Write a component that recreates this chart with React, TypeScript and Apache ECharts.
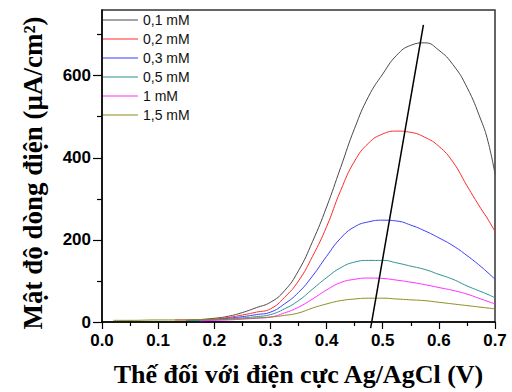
import React, { useEffect, useRef } from "react";
import * as echarts from "echarts";

const potentials = [0.02, 0.05, 0.1, 0.13, 0.15, 0.175, 0.2, 0.225, 0.25, 0.275, 0.3, 0.325, 0.35, 0.375, 0.4, 0.425, 0.45, 0.475, 0.5, 0.525, 0.55, 0.575, 0.6, 0.625, 0.65, 0.675, 0.6875, 0.7];

const c01 = [null, null, null, null, null, 6, 9, 14, 23, 35, 48, 76, 125, 196, 280, 376, 472, 550, 604, 650, 674, 680, 662, 627, 572, 492, 440, 360];
const c02 = [null, null, null, 5, 5, 6, 7, 11, 17, 24, 32, 60, 100, 160, 232, 320, 392, 436, 458, 465, 462, 450, 428, 390, 332, 276, 250, 220];
const c03 = [null, null, null, null, 4, 5, 6, 9, 13, 18, 24, 44, 72, 112, 160, 204, 232, 244, 248, 246, 236, 222, 205, 186, 162, 135, 120, 104];
const c05 = [null, null, null, null, 4, 4, 5, 7, 10, 13, 18, 32, 52, 80, 108, 132, 146, 150, 150, 144, 136, 128, 116, 104, 88, 74, 67, 59];
const c1 = [null, null, null, null, null, 3, 4, 5, 7, 9, 12, 22, 36, 56, 78, 96, 104, 107, 106, 102, 97, 91, 84, 77, 68, 56, 50, 44];
const c15 = [4, 4, 5, 5, 5, 6, 6, 7, 8, 10, 12, 16, 22, 34, 44, 52, 56, 58, 58, 56, 54, 52, 48, 44, 40, 36, 34, 32];

const seriesNames = ["0,1 mM", "0,2 mM", "0,3 mM", "0,5 mM", "1 mM", "1,5 mM"];
const seriesColors = ["#4a4a4a", "#ff2a2a", "#3a3aff", "#2a9090", "#ff2aff", "#8a8a20"];
const seriesValues = [c01, c02, c03, c05, c1, c15];

const trendX = [0.4785, 0.5725];
const trendY = [-15, 724];

const xTicks = [0, 0.1, 0.2, 0.3, 0.4, 0.5, 0.6, 0.7];
const yMajorTicks = [0, 200, 400, 600];
const yMinorTicks = [100, 300, 500, 700];

const legendLineIcon = "path://M0,0h0.01v0.01h-0.01z M0,6.5h35v1.1h-35z M34.99,13.99h0.01v0.01h-0.01z";

export default function App() {
  const ref = useRef<HTMLDivElement>(null);
  useEffect(() => {
    if (!ref.current) return;
    const chart = echarts.init(ref.current, null, { renderer: "svg" });
    const labelFont = { fontFamily: "Liberation Sans", fontWeight: "bold" as const, fontSize: 17, color: "#000" };
    const titleFont = { fontFamily: "Liberation Serif", fontWeight: "bold" as const, fontSize: 26, color: "#000" };
    const series: any[] = seriesValues.map((vals, k) => ({
      name: seriesNames[k],
      type: "line",
      data: potentials.map((p, i) => [p, vals[i]]),
      symbol: "none",
      smooth: 0.5,
      lineStyle: { color: seriesColors[k], width: 1 },
      itemStyle: { color: seriesColors[k] },
    }));
    series.push({
      name: "trend",
      type: "line",
      data: trendX.map((x, i) => [x, trendY[i]]),
      symbol: "none",
      clip: false,
      lineStyle: { color: "#000", width: 1.5 },
      z: 5,
    });
    chart.setOption({
      animation: false,
      grid: { left: 102, right: 17, top: 10, bottom: 65, show: true, borderColor: "#333", borderWidth: 1.5, backgroundColor: "transparent" },
      legend: {
        data: seriesNames,
        icon: legendLineIcon,
        orient: "vertical",
        left: 103,
        top: 13,
        padding: 0,
        itemWidth: 35,
        itemHeight: 14,
        itemGap: 5,
        textStyle: { fontFamily: "Liberation Sans", fontSize: 14, color: "#111" },
      },
      xAxis: {
        type: "value",
        min: 0,
        max: 0.7,
        interval: 0.1,
        name: "Thế đối với điện cực Ag/AgCl (V)",
        nameLocation: "middle",
        nameGap: 39,
        nameTextStyle: titleFont,
        axisLine: { show: true, lineStyle: { color: "#000", width: 1.5 } },
        axisTick: { show: true, length: 7, lineStyle: { color: "#000", width: 1.2 }, customValues: xTicks },
        minorTick: { show: true, splitNumber: 2, length: 4, lineStyle: { color: "#000", width: 1.2 } },
        axisLabel: { ...labelFont, margin: 10, formatter: (v: number) => v.toFixed(1), customValues: xTicks },
        splitLine: { show: false },
      },
      yAxis: [
        {
          type: "value",
          min: 0,
          max: 760,
          interval: 200,
          name: "Mật độ dòng điện (µA/cm²)",
          nameLocation: "middle",
          nameRotate: 90,
          nameGap: 56,
          nameTextStyle: { ...titleFont, fontSize: 27, padding: [0, 14, 0, 0] },
          axisLine: { show: true, lineStyle: { color: "#000", width: 1.5 } },
          axisTick: { show: true, length: 9, lineStyle: { color: "#000", width: 1.2 }, customValues: yMajorTicks },
          axisLabel: { ...labelFont, margin: 11, customValues: yMajorTicks },
          splitLine: { show: false },
        },
        {
          type: "value",
          min: 0,
          max: 760,
          interval: 100,
          position: "left",
          axisLine: { show: false },
          axisTick: { show: true, length: 5, lineStyle: { color: "#000", width: 1.2 }, customValues: yMinorTicks },
          axisLabel: { show: false },
          splitLine: { show: false },
        },
      ],
      series,
    });
    return () => chart.dispose();
  }, []);
  return <div ref={ref} style={{ width: 512, height: 392, position: "absolute", left: 0, top: 0 }} />;
}
